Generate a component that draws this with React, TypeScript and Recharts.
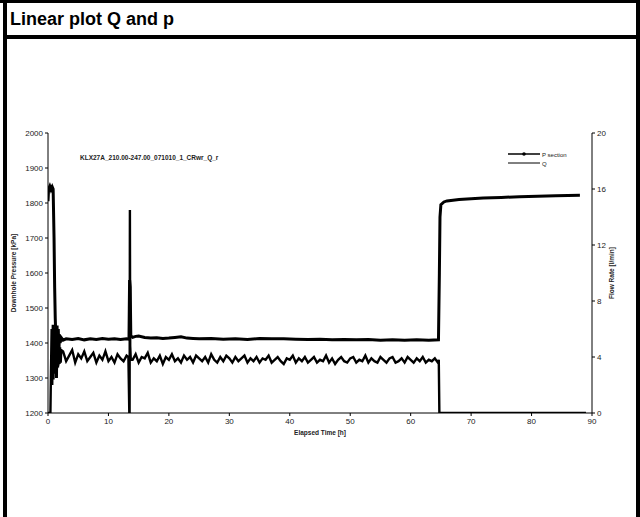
import { LineChart, Line, XAxis, YAxis } from "recharts";

// Elapsed time [h] and section pressure [kPa]
const pTime = [
  0, 0.1, 0.3, 0.5, 0.7, 0.85, 1.0, 1.1, 1.2, 1.3, 1.4, 1.5, 1.6, 1.7, 1.8, 1.9, 2.0, 2.2, 2.5,
  3, 4, 5, 6, 7, 8, 9, 10, 11, 12, 13, 13.4, 13.45, 13.5, 13.6, 13.7,
  14, 14.5, 15, 16, 17, 18, 19, 20, 21, 22, 23, 24, 25, 27, 29, 31, 33, 35, 37, 39,
  41, 43, 45, 47, 49, 51, 53, 55, 57, 59, 61, 63, 64.6, 64.75, 64.85, 65, 65.5,
  66, 67, 68, 70, 72, 75, 78, 81, 84, 88,
];
const pPress = [
  1805, 1840, 1848, 1838, 1846, 1840, 1700, 1560, 1470, 1420, 1300, 1450, 1330, 1440, 1380, 1425, 1400, 1415, 1408,
  1412, 1410, 1413, 1409, 1412, 1410, 1413, 1411, 1412, 1410, 1412, 1411, 1500, 1580, 1560, 1420,
  1416, 1419, 1420, 1416, 1414, 1415, 1413, 1414, 1416, 1418, 1414, 1413, 1412, 1413, 1411, 1412, 1410, 1413, 1412, 1412,
  1411, 1410, 1411, 1409, 1410, 1409, 1410, 1408, 1409, 1408, 1409, 1408, 1409, 1600, 1760, 1795, 1803,
  1806, 1808, 1810, 1812, 1814, 1816, 1818, 1819.5, 1821, 1822,
];

// Elapsed time [h] and flow rate [l/min]
const qTime = [
  0, 0.4, 0.5, 0.6, 0.7, 0.8, 0.9, 1.0, 1.1, 1.2, 1.3, 1.4, 1.5, 1.6, 1.7, 1.8, 1.9, 2.0, 2.1, 2.2,
  2.5, 3.0, 3.5, 4.0, 4.5, 5.0, 5.5, 6.0, 6.5, 7.0, 7.5, 8.0, 8.5, 9.0, 9.5, 10.0, 10.5, 11.0, 11.5, 12.0, 12.5, 13.0,
  13.3, 13.45, 13.5, 13.55, 13.6, 13.7,
  14.0, 14.5, 15.0, 15.5, 16.0, 16.5, 17.0, 17.5, 18.0, 18.5, 19.0, 19.5, 20.0, 20.5, 21.0, 21.5, 22.0, 22.5, 23.0, 23.5,
  24.0, 24.5, 25.0, 25.5, 26.0, 26.5, 27.0, 27.5, 28.0, 28.5, 29.0, 29.5, 30.0, 30.5, 31.0, 31.5, 32.0, 32.5, 33.0, 33.5,
  34.0, 34.5, 35.0, 35.5, 36.0, 36.5, 37.0, 37.5, 38.0, 38.5, 39.0, 39.5, 40.0, 40.5, 41.0, 41.5, 42.0, 42.5, 43.0, 43.5,
  44.0, 44.5, 45.0, 45.5, 46.0, 46.5, 47.0, 47.5, 48.0, 48.5, 49.0, 49.5, 50.0, 50.5, 51.0, 51.5, 52.0, 52.5, 53.0, 53.5,
  54.0, 54.5, 55.0, 55.5, 56.0, 56.5, 57.0, 57.5, 58.0, 58.5, 59.0, 59.5, 60.0, 60.5, 61.0, 61.5, 62.0, 62.5, 63.0, 63.5,
  64.0, 64.5, 64.65, 64.75, 89,
];
const qFlow = [
  0, 0, 3.2, 6.0, 2.0, 6.3, 2.4, 5.9, 2.8, 6.1, 3.0, 5.6, 3.2, 5.2, 3.4, 4.9, 3.5, 4.7, 3.6, 4.5,
  4.4, 3.7, 4.1, 4.5, 3.6, 4.2, 3.9, 4.4, 3.7, 4.0, 4.3, 3.6, 4.1, 3.8, 4.4, 3.7, 4.0, 3.6, 4.2, 3.9, 3.7, 4.1,
  4.0, 0, 0, 14.5, 4.8, 3.8,
  3.8, 4.2, 3.6, 4.0, 3.9, 4.3, 3.6, 3.9, 3.7, 4.1, 3.5, 4.0, 3.8, 4.2, 3.7, 3.9, 3.6, 4.1, 3.8, 4.0,
  3.6, 4.1, 3.9, 3.7, 4.0, 3.6, 4.2, 3.8, 3.6, 4.0, 3.7, 4.1, 3.9, 3.6, 4.0, 3.7, 3.9, 4.1, 3.6, 3.9,
  3.7, 4.0, 3.6, 3.9, 3.8, 4.1, 3.6, 3.8, 4.0, 3.7, 3.5, 3.9, 3.8, 4.1, 3.6, 3.9, 3.7, 4.0, 3.6, 3.8,
  4.0, 3.6, 3.8, 3.7, 4.1, 3.6, 3.9, 3.5, 3.8, 4.0, 3.7, 3.6, 3.9, 4.0, 3.6, 3.8, 3.7, 4.1, 3.6, 3.9,
  3.7, 3.6, 4.0, 3.8, 3.6, 3.9, 4.0, 3.6, 3.7, 3.9, 3.6, 4.0, 3.8, 3.6, 3.9, 3.7, 4.0, 3.6, 3.8, 3.7,
  3.9, 3.6, 3.8, 0, 0,
];

const xTicks = [0, 10, 20, 30, 40, 50, 60, 70, 80, 90];
const pTicks = [1200, 1300, 1400, 1500, 1600, 1700, 1800, 1900, 2000];
const qTicks = [0, 4, 8, 12, 16, 20];

const FONT = "'Liberation Sans', Arial, sans-serif";

const pData = pTime.map((t, i) => ({ t, p: pPress[i] }));
const qData = qTime.map((t, i) => ({ t, q: qFlow[i] }));

const tickStyle = { fontSize: 8, fill: "#222", fontFamily: FONT };

const LegendBox = () => (
  <svg width={70} height={20} style={{ display: "block" }}>
    <line x1={2} y1={5} x2={34} y2={5} stroke="#000" strokeWidth={1.5} />
    <circle cx={18} cy={5} r={1.8} fill="#000" />
    <text x={36} y={7.5} fontSize={6} fontFamily={FONT} fill="#222">P section</text>
    <line x1={2} y1={14} x2={34} y2={14} stroke="#000" strokeWidth={1} />
    <text x={36} y={16.5} fontSize={6} fontFamily={FONT} fill="#222">Q</text>
  </svg>
);

export default function App() {
  return (
    <div style={{ position: "fixed", left: 0, top: 0, width: 640, height: 517, background: "#fff", fontFamily: FONT }}>
      {/* frame */}
      <div style={{ position: "absolute", left: 0, top: 0, width: 640, height: 3, background: "#000" }} />
      <div style={{ position: "absolute", left: 3, top: 0, width: 4, height: 517, background: "#000" }} />
      <div style={{ position: "absolute", left: 636, top: 0, width: 4, height: 517, background: "#000" }} />
      <div style={{ position: "absolute", left: 3, top: 35, width: 637, height: 4, background: "#000" }} />
      <div style={{ position: "absolute", left: 10, top: 5, fontSize: 18, fontWeight: "bold", lineHeight: "28px" }}>
        Linear plot Q and p
      </div>

      <div style={{ position: "absolute", left: 0, top: 0 }}>
        <LineChart width={640} height={517} margin={{ top: 133, right: 18, bottom: 74, left: 18 }}>
          <XAxis
            dataKey="t"
            type="number"
            domain={[0, 90]}
            ticks={xTicks}
            allowDataOverflow
            height={30}
            stroke="#000"
            tickSize={3}
            tick={tickStyle}
          />
          <YAxis
            yAxisId="p"
            domain={[1200, 2000]}
            ticks={pTicks}
            allowDataOverflow
            width={30}
            stroke="#000"
            tickSize={3}
            tick={tickStyle}
          />
          <YAxis
            yAxisId="q"
            orientation="right"
            domain={[0, 20]}
            ticks={qTicks}
            allowDataOverflow
            width={30}
            stroke="#000"
            tickSize={3}
            tick={tickStyle}
          />
          <Line
            yAxisId="q"
            data={qData}
            dataKey="q"
            type="linear"
            stroke="#000"
            strokeWidth={2.4}
            dot={false}
            isAnimationActive={false}
          />
          <Line
            yAxisId="p"
            data={pData}
            dataKey="p"
            type="linear"
            stroke="#000"
            strokeWidth={3}
            dot={false}
            isAnimationActive={false}
          />
        </LineChart>
      </div>

      {/* legend, chart title and axis titles */}
      <div style={{ position: "absolute", left: 506, top: 149 }}>
        <LegendBox />
      </div>
      <div style={{ position: "absolute", left: 80, top: 154, fontSize: 6.5, fontWeight: "bold", color: "#222", whiteSpace: "nowrap" }}>
        KLX27A_210.00-247.00_071010_1_CRwr_Q_r
      </div>
      <div
        style={{
          position: "absolute", left: 14 - 100, top: 273 - 5, width: 200, textAlign: "center",
          fontSize: 6.5, fontWeight: "bold", color: "#222", transform: "rotate(-90deg)", lineHeight: "10px",
        }}
      >
        Downhole Pressure [kPa]
      </div>
      <div
        style={{
          position: "absolute", left: 612 - 100, top: 273 - 5, width: 200, textAlign: "center",
          fontSize: 6.5, fontWeight: "bold", color: "#222", transform: "rotate(-90deg)", lineHeight: "10px",
        }}
      >
        Flow Rate [l/min]
      </div>
      <div
        style={{
          position: "absolute", left: 220, top: 428, width: 200, textAlign: "center",
          fontSize: 6.5, fontWeight: "bold", color: "#222", lineHeight: "10px",
        }}
      >
        Elapsed Time [h]
      </div>
    </div>
  );
}
